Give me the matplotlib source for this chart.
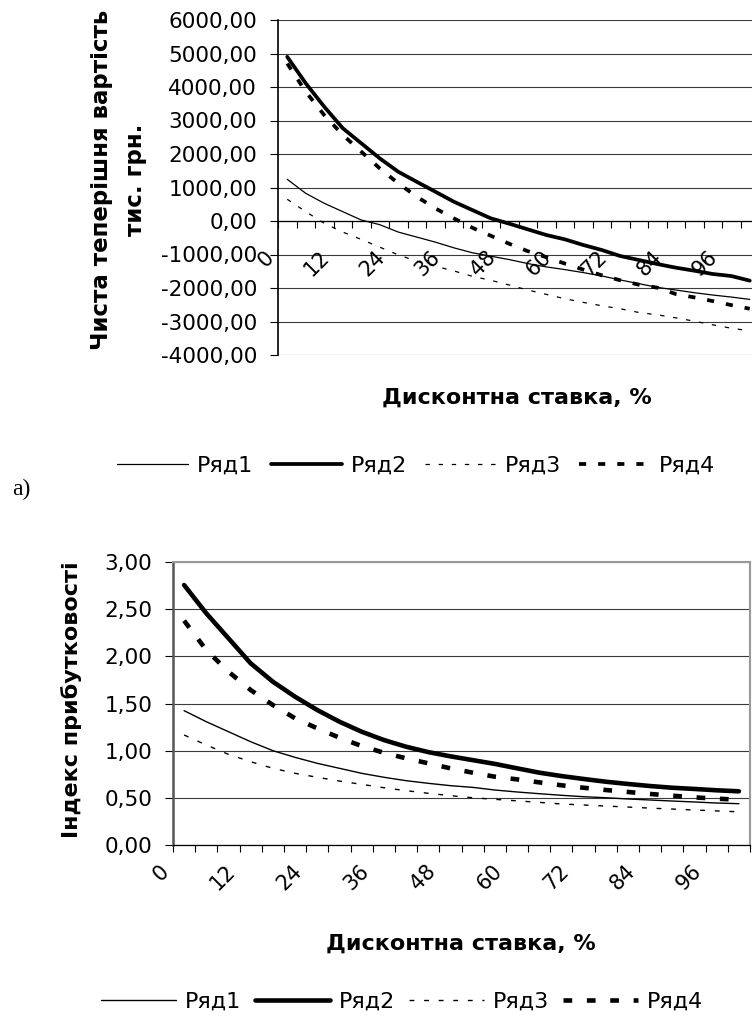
import matplotlib
matplotlib.use('Agg')
import matplotlib.pyplot as plt
from matplotlib.ticker import MultipleLocator, FixedLocator, FuncFormatter
from matplotlib.transforms import offset_copy

# discount rate categories, %
rates = [0, 4, 8, 12, 16, 20, 24, 28, 32, 36, 40, 44, 48, 52,
         56, 60, 64, 68, 72, 76, 80, 84, 88, 92, 96, 100]
label_pos = [0, 3, 6, 9, 12, 15, 18, 21, 24]
label_txt = ['0', '12', '24', '36', '48', '60', '72', '84', '96']
names = ['Ряд1', 'Ряд2', 'Ряд3', 'Ряд4']

# a) net present value, thous. UAH
npv_1 = [1244, 826, 528, 279, 30, -110, -330, -480, -630, -800, -947, -1050, -1152,
         -1270, -1370, -1450, -1540, -1640, -1760, -1870, -1980, -2060, -2140,
         -2210, -2270, -2340]
npv_2 = [4900, 4110, 3410, 2770, 2320, 1870, 1470, 1170, 875, 577, 328, 80, -80,
         -249, -418, -547, -716, -866, -1045, -1164, -1284, -1393, -1483,
         -1582, -1642, -1781]
npv_3 = [648, 279, -70, -330, -550, -780, -1010, -1200, -1350, -1490, -1650, -1770,
         -1910, -2060, -2190, -2320, -2430, -2530, -2620, -2730, -2800, -2890,
         -2990, -3100, -3200, -3280]
npv_4 = [4700, 3860, 3160, 2570, 2070, 1570, 1125, 726, 378, 80, -200, -440, -680,
         -900, -1080, -1270, -1450, -1620, -1770, -1900, -1990, -2180, -2280,
         -2390, -2510, -2620]

# b) profitability index
pi_1 = [1.424, 1.307, 1.201, 1.095, 1.000, 0.929, 0.866, 0.813, 0.760, 0.718, 0.682,
        0.654, 0.629, 0.611, 0.583, 0.562, 0.544, 0.527, 0.512, 0.501, 0.488,
        0.477, 0.466, 0.456, 0.445, 0.438]
pi_2 = [2.756, 2.456, 2.191, 1.926, 1.731, 1.572, 1.431, 1.307, 1.201, 1.113, 1.042,
        0.985, 0.940, 0.900, 0.860, 0.813, 0.767, 0.731, 0.700, 0.671, 0.647,
        0.625, 0.607, 0.594, 0.580, 0.569]
pi_3 = [1.166, 1.060, 0.961, 0.883, 0.813, 0.760, 0.718, 0.678, 0.643, 0.607, 0.576,
        0.548, 0.523, 0.501, 0.484, 0.468, 0.452, 0.435, 0.424, 0.413, 0.402,
        0.391, 0.381, 0.371, 0.361, 0.352]
pi_4 = [2.378, 2.067, 1.837, 1.643, 1.484, 1.343, 1.237, 1.138, 1.049, 0.978, 0.919,
        0.866, 0.813, 0.767, 0.724, 0.696, 0.664, 0.633, 0.607, 0.583, 0.562,
        0.541, 0.523, 0.505, 0.491, 0.480]

W, H = 752, 1019
fig = plt.figure(figsize=(W / 100, H / 100), dpi=100)


def px_box(left, top, right, bottom):
    return [left / W, 1 - bottom / H, (right - left) / W, (bottom - top) / H]


def comma_fmt(v, pos):
    return f'{v:.2f}'.replace('.', ',')


def draw(ax, series, thin, thick, lab_dx, lab_dy):
    idx = list(range(len(rates)))
    lines = []
    lines += ax.plot(idx, series[0], color='black', lw=thin, solid_capstyle='round')
    lines += ax.plot(idx, series[1], color='black', lw=thick, solid_capstyle='round')
    lines += ax.plot(idx, series[2], color='black', lw=thin, dashes=(3.5, 7))
    lines += ax.plot(idx, series[3], color='black', lw=thick, dashes=(1.9, 3.2))
    ax.set_xlim(-0.5, len(rates) - 0.5)
    ax.xaxis.set_major_locator(FixedLocator([k - 0.5 for k in range(len(rates) + 1)]))
    ax.tick_params(axis='x', direction='out', length=5, width=0.8, labelbottom=False)
    ax.tick_params(axis='y', direction='out', length=6, width=0.8, pad=9, labelsize=15.5)
    ax.yaxis.set_major_formatter(FuncFormatter(comma_fmt))
    ax.grid(axis='y', color='#3a3a3a', lw=0.8)
    ax.set_axisbelow(True)
    tr = offset_copy(ax.transData, fig=fig, x=lab_dx, y=lab_dy, units='dots')
    for k, t in zip(label_pos, label_txt):
        ax.text(k, 0, t, transform=tr, rotation=45, ha='right', va='top', fontsize=15)
    return lines


# top chart
ax1 = fig.add_axes(px_box(278, 20, 759, 355))
lines1 = draw(ax1, [npv_1, npv_2, npv_3, npv_4], 0.9, 2.7, -9.5, -26)
ax1.set_ylim(-4000, 6000)
ax1.yaxis.set_major_locator(MultipleLocator(1000))
ax1.spines['top'].set_visible(False)
ax1.spines['right'].set_visible(False)
ax1.spines['bottom'].set_position(('data', 0))
ax1.spines['bottom'].set_linewidth(0.9)
ax1.spines['left'].set_linewidth(1.2)

fig.text(118.5 / W, 1 - 180 / H, 'Чиста теперішня вартість\nтис. грн.', rotation=90,
         ha='center', va='center', fontsize=16.5, fontweight='bold', linespacing=1.6,
         multialignment='center')
fig.text(517 / W, 1 - 398 / H, 'Дисконтна ставка, %', ha='center', va='center',
         fontsize=16, fontweight='bold')
fig.legend(lines1, names, loc='center', bbox_to_anchor=(416 / W, 1 - 466 / H), ncol=4,
           frameon=False, fontsize=16, handlelength=3.2, handletextpad=0.4,
           columnspacing=0.8, borderaxespad=0)
fig.text(21 / W, 1 - 489 / H, 'а)', ha='center', va='center', fontsize=17,
         family='Liberation Serif')

# bottom chart
ax2 = fig.add_axes(px_box(173, 562, 750, 845))
lines2 = draw(ax2, [pi_1, pi_2, pi_3, pi_4], 1.0, 3.3, -11, -16)
ax2.set_ylim(0, 3)
ax2.yaxis.set_major_locator(MultipleLocator(0.5))
ax2.spines['left'].set_color('#555555')
ax2.spines['left'].set_linewidth(1.8)
ax2.spines['top'].set_color('#999999')
ax2.spines['top'].set_linewidth(1.5)
ax2.spines['right'].set_color('#999999')
ax2.spines['right'].set_linewidth(1.5)
ax2.spines['bottom'].set_linewidth(0.9)

fig.text(72 / W, 1 - 700 / H, 'Індекс прибутковості', rotation=90, ha='center',
         va='center', fontsize=16, fontweight='bold')
fig.text(461 / W, 1 - 944 / H, 'Дисконтна ставка, %', ha='center', va='center',
         fontsize=16, fontweight='bold')
fig.legend(lines2, names, loc='center', bbox_to_anchor=(402 / W, 1 - 1002 / H), ncol=4,
           frameon=False, fontsize=16, handlelength=3.4, handletextpad=0.4,
           columnspacing=0.6, borderaxespad=0)

fig.savefig('out.png', dpi=100)
